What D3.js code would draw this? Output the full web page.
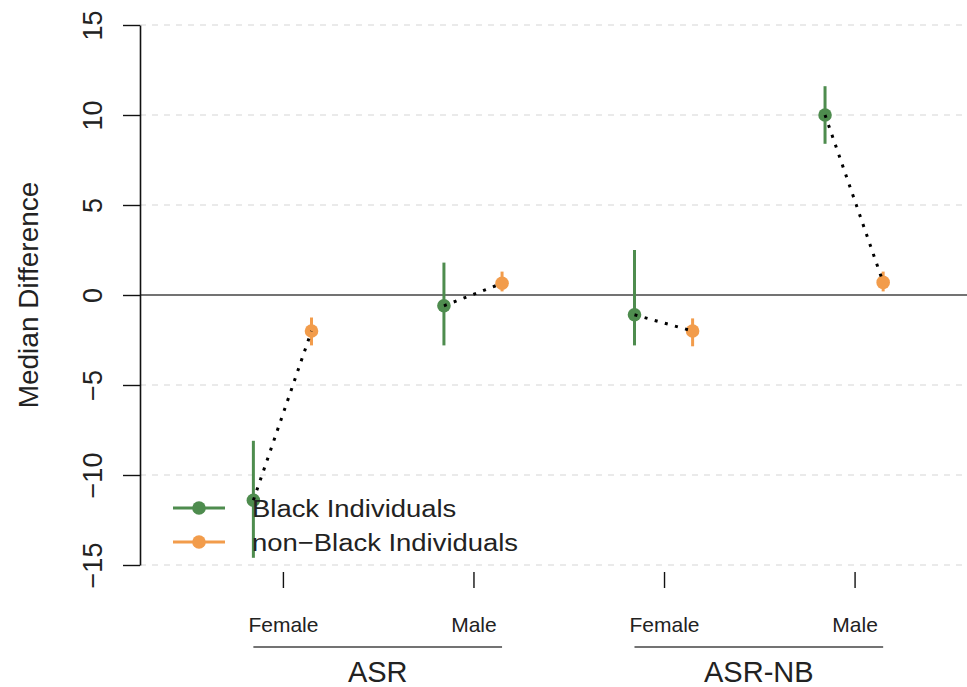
<!DOCTYPE html>
<html>
<head>
<meta charset="utf-8">
<script src="https://cdn.jsdelivr.net/npm/d3@7"></script>
<style>
  body { margin: 0; background: #fff; }
  text { font-family: "Liberation Sans", Arial, Helvetica, sans-serif; fill: #222; }
</style>
</head>
<body>
<div class="graphic"></div>
<script>
// data
let groups = ["ASR", "ASR-NB"];
let categories = ["Female", "Male", "Female", "Male"];
let categoryGroup = [0, 0, 1, 1];
let yTicks = [-15, -10, -5, 0, 5, 10, 15];

let blackMedian = [-11.4, -0.6, -1.1, 10.0];
let blackLower = [-14.6, -2.8, -2.8, 8.4];
let blackUpper = [-8.1, 1.8, 2.5, 11.6];

let nonBlackMedian = [-2.0, 0.65, -2.0, 0.7];
let nonBlackLower = [-2.8, 0.2, -2.85, 0.2];
let nonBlackUpper = [-1.25, 1.3, -1.3, 1.3];

let seriesNames = ["Black Individuals", "non\u2212Black Individuals"];
let seriesColors = ["#4e8c4e", "#f29c4b"];

let svg = d3.select(".graphic")
            .append("svg")
            .attr("width", 967)
            .attr("height", 687);

let AXIS_X = 140;
let OFF_BLACK = -0.155;
let OFF_NON = 0.15;

let x = d3.scaleLinear().domain([0.25, 4.59]).range([AXIS_X, 967]);
let y = d3.scaleLinear().domain([-15, 15]).range([565, 25]);

// grid
svg.append("g")
    .selectAll("line")
    .data(yTicks.filter(d => d !== 0))
    .join("line")
    .attr("x1", AXIS_X)
    .attr("x2", 967)
    .attr("y1", d => y(d))
    .attr("y2", d => y(d))
    .attr("stroke", "#d6d6d6")
    .attr("stroke-width", 1.2)
    .attr("stroke-dasharray", "6 6");

// zero line
svg.append("line")
    .attr("x1", AXIS_X)
    .attr("x2", 967)
    .attr("y1", y(0))
    .attr("y2", y(0))
    .attr("stroke", "#444")
    .attr("stroke-width", 1.6);

// y axis
let yAxis = svg.append("g")
    .attr("transform", `translate(${AXIS_X},0)`)
    .call(d3.axisLeft(y).tickValues(yTicks).tickSize(17).tickSizeOuter(0));
yAxis.select(".domain").attr("stroke", "#111").attr("stroke-width", 1.6);
yAxis.selectAll(".tick line").attr("stroke", "#111").attr("stroke-width", 1.4);
yAxis.selectAll(".tick text")
    .attr("transform", "rotate(-90)")
    .attr("x", 0)
    .attr("y", -38)
    .attr("dy", 0)
    .attr("text-anchor", "middle")
    .style("font-size", "27px")
    .style("font-family", "Liberation Sans, Arial, sans-serif")
    .attr("fill", "#222");

svg.append("text")
    .attr("transform", `translate(38,${y(0)}) rotate(-90)`)
    .attr("text-anchor", "middle")
    .style("font-size", "28px")
    .text("Median Difference");

// x axis (ticks only)
let xAxis = svg.append("g")
    .attr("transform", "translate(0,572)")
    .call(d3.axisBottom(x).tickValues([1, 2, 3, 4]).tickSize(16)
        .tickFormat((d, i) => categories[i]));
xAxis.select(".domain").remove();
xAxis.selectAll(".tick line").attr("stroke", "#111").attr("stroke-width", 1.4);
xAxis.selectAll(".tick text")
    .attr("y", 60)
    .attr("dy", 0)
    .style("font-size", "21px")
    .style("font-family", "Liberation Sans, Arial, sans-serif")
    .attr("fill", "#333");

// group brackets
groups.forEach(function(g, gi) {
    let idx = categoryGroup.map((c, i) => c === gi ? i : -1).filter(i => i >= 0);
    let x1 = x(idx[0] + 1 + OFF_BLACK);
    let x2 = x(idx[idx.length - 1] + 1 + OFF_NON);
    svg.append("line")
        .attr("x1", x1).attr("x2", x2)
        .attr("y1", 647).attr("y2", 647)
        .attr("stroke", "#444")
        .attr("stroke-width", 1.6);
    svg.append("text")
        .attr("x", (x1 + x2) / 2)
        .attr("y", 682)
        .attr("text-anchor", "middle")
        .style("font-size", "29px")
        .text(g);
});

let series = [
    {median: blackMedian, lower: blackLower, upper: blackUpper, off: OFF_BLACK, color: seriesColors[0]},
    {median: nonBlackMedian, lower: nonBlackLower, upper: nonBlackUpper, off: OFF_NON, color: seriesColors[1]}
];

// intervals and points
series.forEach(function(s) {
    let g = svg.append("g");
    g.selectAll("line")
        .data(s.median)
        .join("line")
        .attr("x1", (d, i) => x(i + 1 + s.off))
        .attr("x2", (d, i) => x(i + 1 + s.off))
        .attr("y1", (d, i) => y(s.lower[i]))
        .attr("y2", (d, i) => y(s.upper[i]))
        .attr("stroke", s.color)
        .attr("stroke-width", 3);
    g.selectAll("circle")
        .data(s.median)
        .join("circle")
        .attr("cx", (d, i) => x(i + 1 + s.off))
        .attr("cy", d => y(d))
        .attr("r", 6.8)
        .attr("fill", s.color);
});

// dotted connectors
svg.append("g")
    .selectAll("line")
    .data(blackMedian)
    .join("line")
    .attr("x1", (d, i) => x(i + 1 + OFF_BLACK))
    .attr("y1", d => y(d))
    .attr("x2", (d, i) => x(i + 1 + OFF_NON))
    .attr("y2", (d, i) => y(nonBlackMedian[i]))
    .attr("stroke", "#000")
    .attr("stroke-width", 3)
    .attr("stroke-dasharray", "3 7.5");

// legend
let legend = svg.append("g");
seriesNames.forEach(function(name, i) {
    let ly = 508 + i * 34;
    legend.append("line")
        .attr("x1", 173).attr("x2", 225)
        .attr("y1", ly).attr("y2", ly)
        .attr("stroke", seriesColors[i])
        .attr("stroke-width", 3);
    legend.append("circle")
        .attr("cx", 199).attr("cy", ly)
        .attr("r", 6.8)
        .attr("fill", seriesColors[i]);
    legend.append("text")
        .attr("transform", `translate(252,${ly + 9}) scale(1.12,1)`)
        .style("font-size", "24.5px")
        .text(name);
});
</script>
</body>
</html>
